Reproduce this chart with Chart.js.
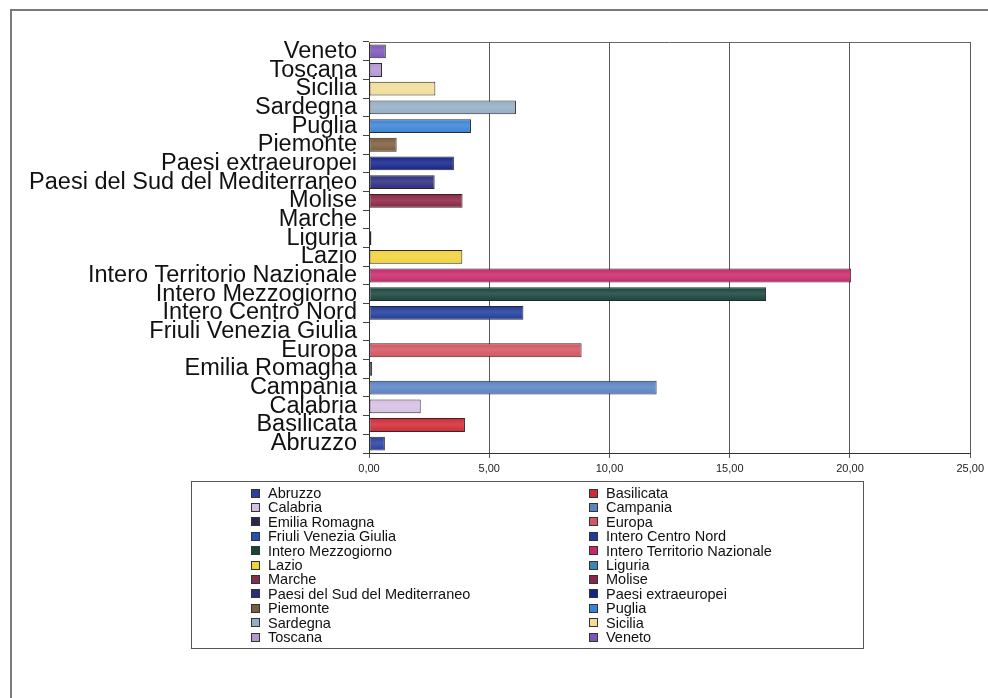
<!DOCTYPE html>
<html>
<head>
<meta charset="utf-8">
<script src="https://cdn.jsdelivr.net/npm/chart.js@4/dist/chart.umd.min.js"></script>
<style>
  html, body { margin: 0; padding: 0; background: #fff; }
  #wrap { position: relative; width: 988px; height: 698px; overflow: hidden; }
  #frame {
    position: absolute; left: 10px; top: 9px; width: 1000px; height: 700px;
    border-left: 2px solid #7a7a7a; border-top: 2px solid #7a7a7a;
  }
  #legend {
    position: absolute; left: 191px; top: 481px; width: 673px; height: 168px;
    box-sizing: border-box; border: 1px solid #555;
    padding: 4px 0 0 59px;
    display: grid; grid-template-columns: 338px auto; grid-auto-rows: 14.4px;
    font-family: 'Liberation Sans', Arial, sans-serif; font-size: 14.5px; color: #111;
  }
  #legend .item { display: flex; align-items: center; white-space: nowrap; line-height: 14.4px; }
  #legend .box {
    width: 7px; height: 7px; border: 1px solid #333; margin-right: 8px; flex: none;
  }
</style>
</head>
<body>
<div id="wrap">
  <div id="frame"></div>
  <canvas id="chart" width="988" height="698"></canvas>
  <div id="legend"></div>
</div>
<script>
// regions, alphabetical (bottom of the axis upwards)
const regions = [
  'Abruzzo', 'Basilicata', 'Calabria', 'Campania', 'Emilia Romagna', 'Europa',
  'Friuli Venezia Giulia', 'Intero Centro Nord', 'Intero Mezzogiorno',
  'Intero Territorio Nazionale', 'Lazio', 'Liguria', 'Marche', 'Molise',
  'Paesi del Sud del Mediterraneo', 'Paesi extraeuropei', 'Piemonte', 'Puglia',
  'Sardegna', 'Sicilia', 'Toscana', 'Veneto'
];

const values = [
  0.66, 3.99, 2.15, 11.96, 0.13, 8.84,
  0, 6.42, 16.51,
  20.05, 3.88, 0.10, 0, 3.89,
  2.73, 3.53, 1.15, 4.24,
  6.11, 2.76, 0.54, 0.70
];

const colors = [
  '#2a3f9e', '#d02a35', '#d6bfe4', '#5a82c4', '#2e2452', '#d4545f',
  '#2252b4', '#1f3c9c', '#17443a',
  '#c8286a', '#f2d23a', '#3a86b8', '#80304e', '#8c2444',
  '#2b2c7e', '#14238c', '#7e5c3a', '#3a82d6',
  '#94aec4', '#f2dc98', '#b496d2', '#7c55b8'
];

const xTicks = [0, 5, 10, 15, 20, 25];

function shade(hex, amt) {
  const n = parseInt(hex.slice(1), 16);
  let r = (n >> 16) & 255, g = (n >> 8) & 255, b = n & 255;
  r = Math.round(r + (255 - r) * amt);
  g = Math.round(g + (255 - g) * amt);
  b = Math.round(b + (255 - b) * amt);
  return `rgb(${r},${g},${b})`;
}

// slightly lighter band through the middle of each bar
function barFill(c) {
  const chart = c.chart;
  const base = colors[c.dataIndex];
  if (!chart.chartArea || c.dataIndex === undefined) return base;
  const y = chart.scales.y.getPixelForValue(c.dataIndex);
  const g = chart.ctx.createLinearGradient(0, y - 7, 0, y + 7);
  g.addColorStop(0, base);
  g.addColorStop(0.45, shade(base, 0.14));
  g.addColorStop(1, base);
  return g;
}

const plotFrame = {
  id: 'plotFrame',
  afterDatasetsDraw(chart) {
    const { ctx, chartArea: a } = chart;
    ctx.save();
    ctx.strokeStyle = '#666';
    ctx.lineWidth = 1;
    ctx.beginPath();
    ctx.moveTo(a.left, a.top + 0.5);
    ctx.lineTo(a.right, a.top + 0.5);
    ctx.stroke();
    ctx.restore();
  }
};

const labelFont = "'Liberation Sans', Arial, sans-serif";

const chart = new Chart(document.getElementById('chart'), {
  type: 'bar',
  data: {
    labels: regions,
    datasets: [{
      data: values,
      backgroundColor: barFill,
      borderColor: '#2a2a2a',
      borderWidth: 1,
      borderSkipped: false,
      categoryPercentage: 1,
      barPercentage: 0.74
    }]
  },
  options: {
    indexAxis: 'y',
    responsive: false,
    animation: false,
    layout: { padding: { left: 20, right: 15, top: 42, bottom: 219 } },
    plugins: {
      legend: { display: false },
      tooltip: { enabled: false }
    },
    scales: {
      x: {
        min: 0,
        max: 25,
        afterBuildTicks: s => { s.ticks = xTicks.map(v => ({ value: v })); },
        afterFit: s => { s.height = 26; },
        grid: { color: '#5a5a5a', lineWidth: 1, tickLength: 5 },
        border: { color: '#333', width: 1 },
        ticks: {
          padding: 4,
          color: '#222',
          font: { family: labelFont, size: 11 },
          callback: v => v.toFixed(2).replace('.', ',')
        }
      },
      y: {
        reverse: true,
        afterFit: s => { s.width = 349; },
        grid: { drawOnChartArea: false, offset: true, tickLength: 6, color: '#444' },
        border: { color: '#333', width: 1 },
        ticks: {
          autoSkip: false,
          padding: 6,
          color: '#111',
          font: { family: labelFont, size: 23.5 }
        }
      }
    }
  },
  plugins: [plotFrame]
});

// two-column legend, row by row
const legend = document.getElementById('legend');
regions.forEach((name, i) => {
  const item = document.createElement('div');
  item.className = 'item';
  const box = document.createElement('span');
  box.className = 'box';
  box.style.background = colors[i];
  const txt = document.createElement('span');
  txt.textContent = name;
  item.appendChild(box);
  item.appendChild(txt);
  legend.appendChild(item);
});
</script>
</body>
</html>
